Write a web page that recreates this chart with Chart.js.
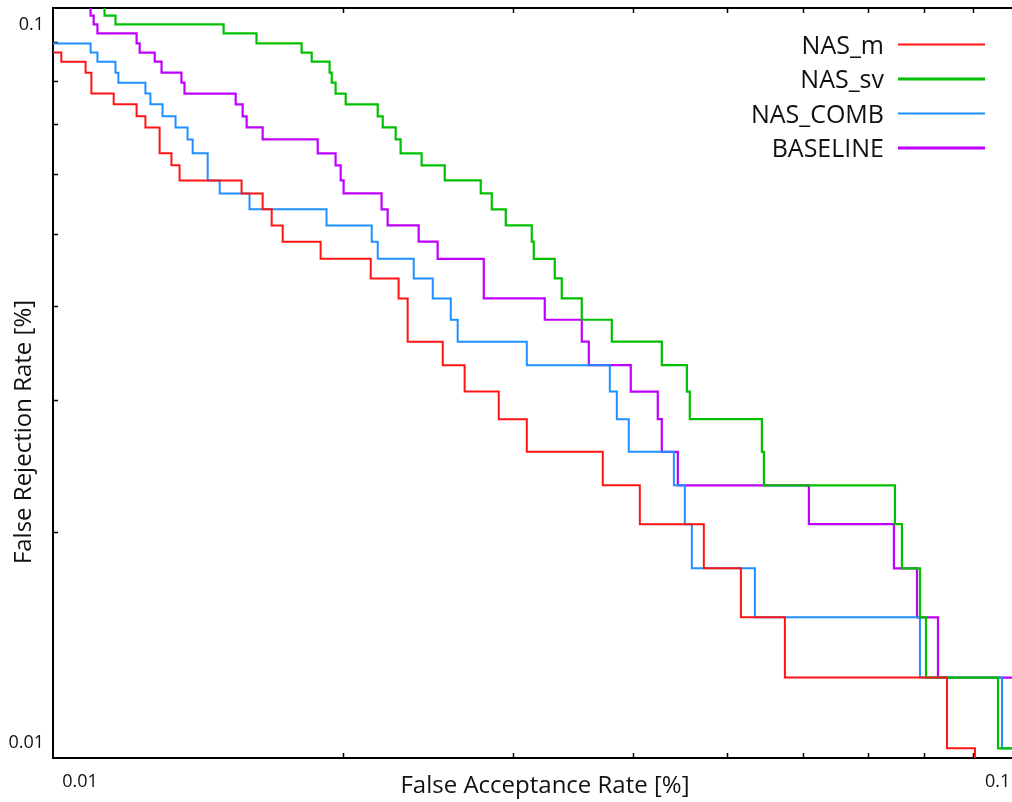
<!DOCTYPE html>
<html>
<head>
<meta charset="utf-8">
<script src="https://cdn.jsdelivr.net/npm/chart.js@4.4.1/dist/chart.umd.min.js"></script>
<style>
  html, body { margin: 0; padding: 0; background: #fff; overflow: hidden; width: 1012px; height: 802px; }
  #c { position: absolute; left: 0; top: 0; }
</style>
</head>
<body>
<canvas id="c" width="1020" height="802" style="width:1020px;height:802px"></canvas>
<script>
// ---- data (FAR = x, FRR = y) ----
const seriesNames = ['NAS_m', 'NAS_sv', 'NAS_COMB', 'BASELINE'];

const nasM_far = [0.01, 0.01020, 0.01081, 0.01096, 0.01156, 0.01221, 0.01247, 0.01290, 0.01327, 0.01353,
  0.01569, 0.01650, 0.01686, 0.01731, 0.01895, 0.02136, 0.02283, 0.02333, 0.02537, 0.02673,
  0.02900, 0.03101, 0.03718, 0.04062, 0.04733, 0.05171, 0.05744, 0.08460, 0.09045];
const nasM_frr = [0.0872, 0.0848, 0.0820, 0.0769, 0.0744, 0.0717, 0.0693, 0.0640, 0.0617, 0.0589,
  0.0566, 0.0539, 0.0513, 0.0488, 0.0463, 0.0436, 0.0410, 0.0359, 0.0334, 0.0308,
  0.0283, 0.0256, 0.0231, 0.0205, 0.0179, 0.0154, 0.0128, 0.0103, 0.0077];

const nasSv_far = [0.01, 0.01131, 0.01161, 0.01503, 0.01626, 0.01811, 0.01855, 0.01936, 0.01946, 0.01964,
  0.02012, 0.02172, 0.02198, 0.02267, 0.02294, 0.02412, 0.02549, 0.02778, 0.02852, 0.02949,
  0.03138, 0.03153, 0.03315, 0.03371, 0.03536, 0.03799, 0.04281, 0.04545, 0.04577, 0.05437,
  0.05463, 0.07471, 0.07597, 0.07931, 0.08046, 0.09556, 0.1];
const nasSv_frr = [0.1026, 0.0977, 0.0951, 0.0925, 0.0897, 0.0872, 0.0848, 0.0820, 0.0795, 0.0769,
  0.0744, 0.0717, 0.0693, 0.0668, 0.0640, 0.0617, 0.0589, 0.0566, 0.0539, 0.0513,
  0.0488, 0.0463, 0.0436, 0.0410, 0.0384, 0.0359, 0.0334, 0.0308, 0.0283, 0.0256,
  0.0231, 0.0205, 0.0179, 0.0154, 0.0128, 0.0103, 0.0103];

const nasComb_far = [0.01, 0.01094, 0.01112, 0.01161, 0.01169, 0.01247, 0.01262, 0.01299, 0.01340, 0.01379,
  0.01396, 0.01447, 0.01489, 0.01599, 0.01922, 0.02141, 0.02172, 0.02367, 0.02477, 0.02586,
  0.02629, 0.03101, 0.03781, 0.03845, 0.03956, 0.04406, 0.04523, 0.04599, 0.05347, 0.07931,
  0.09648, 0.1];
const nasComb_frr = [0.0897, 0.0872, 0.0848, 0.0820, 0.0795, 0.0769, 0.0744, 0.0717, 0.0693, 0.0668,
  0.0640, 0.0589, 0.0566, 0.0539, 0.0513, 0.0488, 0.0463, 0.0436, 0.0410, 0.0384,
  0.0359, 0.0334, 0.0308, 0.0283, 0.0256, 0.0231, 0.0205, 0.0179, 0.0154, 0.0128,
  0.0103, 0.0103];

const baseline_far = [0.01, 0.01094, 0.01102, 0.01112, 0.01221, 0.01230, 0.01275, 0.01296, 0.01359, 0.01369,
  0.01547, 0.01573, 0.01588, 0.01650, 0.01882, 0.01964, 0.01988, 0.02002, 0.02192, 0.02224,
  0.02395, 0.02506, 0.02798, 0.03237, 0.03536, 0.03596, 0.03975, 0.04240, 0.04281, 0.04448,
  0.06083, 0.07453, 0.07875, 0.08280, 0.1];
const baseline_frr = [0.1026, 0.0977, 0.0951, 0.0925, 0.0897, 0.0872, 0.0848, 0.0820, 0.0795, 0.0769,
  0.0744, 0.0717, 0.0693, 0.0668, 0.0640, 0.0617, 0.0589, 0.0566, 0.0539, 0.0513,
  0.0488, 0.0463, 0.0410, 0.0384, 0.0359, 0.0334, 0.0308, 0.0283, 0.0256, 0.0231,
  0.0205, 0.0179, 0.0154, 0.0128, 0.0128];

const axisMin = 0.01, axisMax = 0.1;
const minorTicks = [0.02, 0.03, 0.04, 0.05, 0.06, 0.07, 0.08, 0.09];
const xTickLabels = ['0.01', '0.1'];
const yTickLabels = ['0.1', '0.01'];
const xTitle = 'False Acceptance Rate [%]';
const yTitle = 'False Rejection Rate [%]';

// ---- styles ----
const colors = ['#ff1414', '#00c000', '#1e90ff', '#c000ff'];
const widths = [2, 2.2, 2, 2.2];
const legendWidths = [2, 3, 2, 3];
const FONT = '"Open Sans", "DejaVu Sans", sans-serif';

function pts(xs, ys) { return xs.map((x, i) => ({ x: x, y: ys[i] })); }
const allData = [pts(nasM_far, nasM_frr), pts(nasSv_far, nasSv_frr), pts(nasComb_far, nasComb_frr), pts(baseline_far, baseline_frr)];

const frame = {
  id: 'frame',
  beforeDatasetsDraw(chart) {
    const { ctx, chartArea: a, scales } = chart;
    const sx = scales.x, sy = scales.y;
    ctx.save();
    ctx.strokeStyle = '#000';
    ctx.lineWidth = 2;
    ctx.strokeRect(a.left, a.top, a.right - a.left, a.bottom - a.top);
    ctx.lineWidth = 1.5;
    ctx.beginPath();
    minorTicks.forEach(v => {
      const px = Math.round(sx.getPixelForValue(v)) + 0.5;
      ctx.moveTo(px, a.bottom); ctx.lineTo(px, a.bottom - 5);
      ctx.moveTo(px, a.top); ctx.lineTo(px, a.top + 5);
      const py = Math.round(sy.getPixelForValue(v)) + 0.5;
      ctx.moveTo(a.left, py); ctx.lineTo(a.left + 5, py);
      ctx.moveTo(a.right, py); ctx.lineTo(a.right - 5, py);
    });
    ctx.stroke();
    ctx.restore();
  },
  afterDraw(chart) {
    const { ctx, chartArea: a, scales } = chart;
    const sx = scales.x, sy = scales.y;
    ctx.save();
    ctx.fillStyle = '#111';
    // tick labels
    ctx.font = '18px ' + FONT;
    ctx.textBaseline = 'alphabetic';
    ctx.textAlign = 'center';
    ctx.fillText(xTickLabels[0], sx.getPixelForValue(axisMin) + 27, a.bottom + 29);
    ctx.textAlign = 'left';
    ctx.fillText(xTickLabels[1], sx.getPixelForValue(axisMax) - 32, a.bottom + 29);
    ctx.textAlign = 'right';
    ctx.fillText(yTickLabels[0], a.left - 9, sy.getPixelForValue(axisMax) + 21.5);
    ctx.fillText(yTickLabels[1], a.left - 9, sy.getPixelForValue(axisMin) - 10);
    // axis titles
    ctx.font = '24px ' + FONT;
    ctx.textAlign = 'center';
    ctx.fillText(xTitle, 545, 793);
    ctx.save();
    ctx.translate(31, 432);
    ctx.rotate(-Math.PI / 2);
    ctx.fillText(yTitle, 0, 0);
    ctx.restore();
    // legend
    ctx.font = '25px ' + FONT;
    ctx.textAlign = 'right';
    seriesNames.forEach((n, i) => {
      const ly = 44.5 + i * 34.5;
      ctx.fillStyle = '#111';
      ctx.fillText(n, 884, ly + 9);
      ctx.strokeStyle = colors[i];
      ctx.lineWidth = legendWidths[i];
      ctx.beginPath();
      ctx.moveTo(898, ly); ctx.lineTo(985, ly);
      ctx.stroke();
    });
    ctx.restore();
  }
};

new Chart(document.getElementById('c'), {
  type: 'line',
  data: {
    datasets: seriesNames.map((n, i) => ({
      label: n,
      data: allData[i],
      borderColor: colors[i],
      borderWidth: widths[i],
      stepped: 'before',
      pointRadius: 0,
      fill: false,
      tension: 0
    }))
  },
  options: {
    responsive: false,
    devicePixelRatio: 1,
    animation: false,
    layout: { padding: { left: 53, top: 8, right: 3, bottom: 44 } },
    plugins: { legend: { display: false }, tooltip: { enabled: false } },
    scales: {
      x: { type: 'logarithmic', min: axisMin, max: axisMax, display: false },
      y: { type: 'logarithmic', min: axisMin, max: axisMax, display: false }
    }
  },
  plugins: [frame]
});
</script>
</body>
</html>
